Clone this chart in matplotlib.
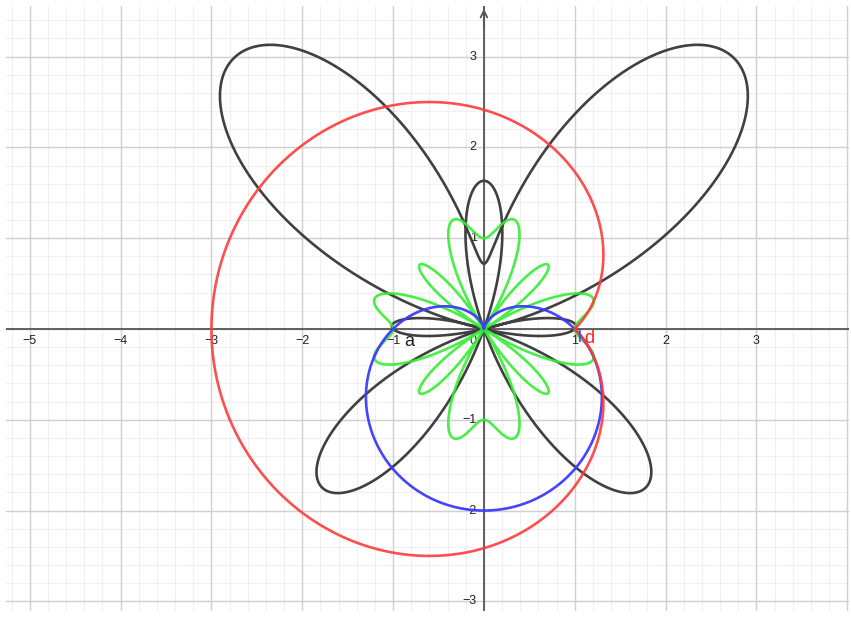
import numpy as np
import matplotlib
matplotlib.use('Agg')
import matplotlib.pyplot as plt

plt.rcParams['font.family'] = ['Liberation Sans', 'DejaVu Sans']

# Curvas polares (GeoGebra): nombre, color, r(theta)
theta = np.linspace(0, 2 * np.pi, 4001)
curve_names = ['mariposa', 'c', 'a', 'd']
curve_colors = ['#404040', '#33ee33', '#3b3bff', '#ff3b3b']
curve_alpha = [1.0, 0.9, 0.95, 0.9]
r_mariposa = np.exp(np.sin(theta)) - 2 * np.cos(4 * theta)
r_flor = np.cos(4 * theta) + np.sin(4 * theta) ** 2
r_cardioide = 1 - np.sin(theta)
r_d = 1 + 2 * np.abs(np.sin(theta / 2))
radii = [r_mariposa, r_flor, r_cardioide, r_d]

x_ticks = [-5, -4, -3, -2, -1, 1, 2, 3]
y_ticks = [-3, -2, -1, 1, 2, 3]

fig = plt.figure(figsize=(8.51, 6.17), dpi=100)
ax = fig.add_axes([6 / 851, 6 / 617, 843 / 851, 605 / 617])
ax.set_xlim(-5.262, 4.02)
ax.set_ylim(-3.106, 3.557)

# Cuadricula
for v in np.arange(-5.2, 4.2, 0.2):
    ax.axvline(v, color='#f0f0f0', lw=0.8, zorder=0)
for v in np.arange(-3.0, 3.6, 0.2):
    ax.axhline(v, color='#f0f0f0', lw=0.8, zorder=0)
for v in range(-5, 5):
    ax.axvline(v, color='#d0d0d0', lw=1.0, zorder=0.5)
for v in range(-3, 4):
    ax.axhline(v, color='#d0d0d0', lw=1.0, zorder=0.5)

# Ejes
ax.axhline(0, color='#555555', lw=1.3, zorder=1)
ax.axvline(0, color='#555555', lw=1.3, zorder=1)
ax.annotate('', xy=(0, 3.557), xytext=(0, 3.3),
            arrowprops=dict(arrowstyle='->', color='#555555', lw=1.3,
                            mutation_scale=12), zorder=1)

for t in x_ticks:
    ax.text(t, -0.07, '−' + str(-t) if t < 0 else str(t), ha='center', va='top',
            fontsize=9, color='#222222')
for t in y_ticks:
    ax.text(-0.08, t, '−' + str(-t) if t < 0 else str(t), ha='right', va='center',
            fontsize=9, color='#222222')
ax.text(-0.08, -0.07, '0', ha='right', va='top', fontsize=9, color='#222222')

# Curvas
for r, c, a in zip(radii, curve_colors, curve_alpha):
    ax.plot(r * np.cos(theta), r * np.sin(theta), color=c, lw=1.9, alpha=a, zorder=3)

ax.text(-0.88, -0.04, 'a', fontsize=13, color='#222222', va='top', zorder=4)
ax.text(1.04, -0.01, 'l', fontsize=12, color='#3b3bff', va='top', zorder=4)
ax.text(1.1, -0.01, 'd', fontsize=13, color='#ff2020', va='top', zorder=4)

ax.axis('off')
fig.savefig('out.png', dpi=100)
